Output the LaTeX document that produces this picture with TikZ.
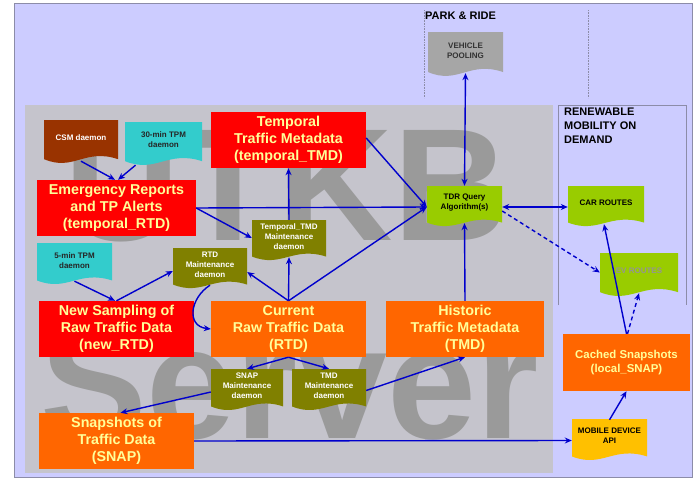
\documentclass[tikz,border=0pt]{standalone}
\usepackage{fontspec}
\setmainfont{Liberation Sans}
\usetikzlibrary{arrows.meta,calc}
\definecolor{lav}{HTML}{CCCCFF}
\definecolor{srv}{HTML}{C5C4CC}
\definecolor{wm}{HTML}{9A9A9A}
\definecolor{boxred}{HTML}{FF0000}
\definecolor{boxorg}{HTML}{FF6600}
\definecolor{txtyel}{HTML}{FFFF99}
\definecolor{cbrown}{HTML}{993300}
\definecolor{ccyan}{HTML}{33CCCC}
\definecolor{colive}{HTML}{808000}
\definecolor{cgreen}{HTML}{99CC00}
\definecolor{cyel}{HTML}{FFC000}
\definecolor{cgray}{HTML}{A6A6A6}
\definecolor{arr}{HTML}{0000CC}
\definecolor{frame}{HTML}{8C8CA8}
\tikzset{
  bigbox/.style={rectangle, inner sep=0pt, text=txtyel, align=center,
    font=\bfseries\fontsize{14.3}{17}\selectfont},
  docfont/.style={font=\bfseries\fontsize{8}{10}\selectfont, align=center, inner sep=0pt},
  hdr/.style={font=\bfseries\fontsize{11}{14}\selectfont, align=left, inner sep=0pt},
  wmtext/.style={font=\bfseries\fontsize{160}{160}\selectfont, text=wm, inner sep=0pt},
  conn/.style={draw=arr, line width=1.4pt, -{Stealth[length=7pt,width=6pt]}},
  conn2/.style={draw=arr, line width=1.4pt, {Stealth[length=7pt,width=6pt]}-{Stealth[length=7pt,width=6pt]}},
  dconn/.style={conn, dash pattern=on 4pt off 3pt},
}
\newcommand\docshape[8]{%
  \fill[#6] (#2,#3) -- ({#2+#4},#3) -- ({#2+#4},{#3+0.87*#5})
    .. controls ({#2+0.55*#4},{#3+0.62*#5}) and ({#2+0.4*#4},{#3+1.15*#5}) .. (#2,{#3+0.87*#5}) -- cycle;
  \node[inner sep=0pt, minimum width=#4pt, minimum height=#5pt] (#1) at ({#2+0.5*#4},{#3+0.5*#5}) {};
  \node[docfont, text=#7] (#1-t) at ({#2+0.5*#4},{#3+0.4*#5}) {#8};
}
\begin{document}
\begin{tikzpicture}[x=1pt,y=-1pt]
\useasboundingbox (0,0) rectangle (696,479);
\fill[white] (0,0) rectangle (696,479);
\filldraw[fill=lav, draw=frame, line width=0.8pt] (14,3) rectangle (692,477);
\fill[srv] (25,105) rectangle (553,473);
% watermark
\node[wmtext, anchor=base west] (wmtop) at (64,240) {UTKB};
\node[wmtext, anchor=base west] (wmbot) at (40,438) {Server};
% section lines
\draw[frame, densely dotted, line width=0.6pt] (424,10) -- (424,98);
\draw[frame, densely dotted, line width=0.6pt] (588,10) -- (588,98);
\draw[frame, line width=0.8pt] (558,305) -- (558,105) -- (686,105) -- (686,305);
\node[hdr, anchor=north west] (park) at (425,12) {PARK \& RIDE};
\node[hdr, anchor=north west] (renew) at (564,108) {RENEWABLE\\MOBILITY ON\\DEMAND};
% big boxes
\node[bigbox, fill=boxred, minimum width=155pt, minimum height=56pt] (ttmd) at (288.5,140) {Temporal\\Traffic Metadata\\(temporal\_TMD)};
\node[bigbox, fill=boxred, minimum width=159pt, minimum height=56pt] (emerg) at (116.5,208) {Emergency Reports\\and TP Alerts\\(temporal\_RTD)};
\node[bigbox, fill=boxred, minimum width=155pt, minimum height=56pt] (newrtd) at (116.5,329) {New Sampling of\\Raw Traffic Data\\(new\_RTD)};
\node[bigbox, fill=boxorg, minimum width=155pt, minimum height=56pt] (rtd) at (288.5,329) {Current\\Raw Traffic Data\\(RTD)};
\node[bigbox, fill=boxorg, minimum width=158pt, minimum height=56pt] (tmd) at (465,329) {Historic\\Traffic Metadata\\(TMD)};
\node[bigbox, fill=boxorg, minimum width=155pt, minimum height=56pt] (snap) at (116.5,441) {Snapshots of\\Traffic Data\\(SNAP)};
\node[bigbox, fill=boxorg, minimum width=127pt, minimum height=57pt, font=\bfseries\fontsize{11.4}{14}\selectfont] (cached) at (626.5,362.5) {Cached Snapshots\\(local\_SNAP)};
% document shapes
\docshape{csm}{44}{120}{74}{45}{cbrown}{white}{CSM daemon}
\docshape{tpmA}{125}{122}{77}{45}{ccyan}{black!85}{30-min TPM\\daemon}
\docshape{tpmB}{37}{243}{75}{43}{ccyan}{black!85}{5-min TPM\\daemon}
\docshape{rtdm}{173}{248}{74}{42}{colive}{white}{RTD\\Maintenance\\daemon}
\docshape{ttmdm}{252}{220}{74}{42}{colive}{white}{Temporal\_TMD\\Maintenance\\daemon}
\docshape{snapm}{211}{369}{72}{43}{colive}{white}{SNAP\\Maintenance\\daemon}
\docshape{tmdm}{292}{369}{74}{43}{colive}{white}{TMD\\Maintenance\\daemon}
\docshape{tdr}{427}{186}{75}{42}{cgreen}{black}{TDR Query\\Algorithm(s)}
\docshape{car}{568}{186}{76}{42}{cgreen}{black}{CAR ROUTES}
\docshape{ev}{600}{253}{78}{45}{cgreen}{black!42}{EV ROUTES}
\docshape{veh}{428}{32}{75}{46}{cgray}{black!80}{VEHICLE\\POOLING}
\docshape{mob}{572}{419}{75}{43}{cyel}{black}{MOBILE DEVICE\\API}
% connectors
\draw[conn] ([yshift=4pt]csm.south) -- ([xshift=-1.5pt]emerg.north);
\draw[conn] ([xshift=-28pt,yshift=2pt]tpmA.south) -- ([xshift=1.5pt]emerg.north);
\draw[conn] (emerg.east) -- (tdr.west);
\draw[conn] (emerg.east) -- ([yshift=3pt]ttmdm.west);
\draw[conn] (ttmdm.north) -- (ttmd.south);
\draw[conn] ([yshift=2pt]ttmd.east) -- (tdr.west);
\draw[conn2] ([yshift=5pt]veh.south) -- (tdr.north);
\draw[conn] (tmd.north) -- ([yshift=5pt]tdr.south);
\draw[conn] (rtd.north) -- (tdr.west);
\draw[conn] (rtd.north) -- ([yshift=5pt]ttmdm.south);
\draw[conn] (rtd.north) -- ([yshift=-3pt]rtdm.east);
\draw[conn] ([yshift=5pt]rtdm.south) .. controls (190,298) and (186,326) .. (rtd.west);
\draw[conn] ([yshift=5pt]tpmB.south) -- ([xshift=-1.5pt]newrtd.north);
\draw[conn] (newrtd.north) -- ([yshift=-2pt]rtdm.west);
\draw[conn] (rtd.south) -- (snapm.north);
\draw[conn] (rtd.south) -- (tmdm.north);
\draw[conn] ([yshift=-1.5pt]snapm.west) -- ([xshift=4pt]snap.north);
\draw[conn] (tmdm.east) -- (tmd.south);
\draw[conn] (snap.east) -- (mob.west);
\draw[conn] ([yshift=-1pt]mob.north) -- (cached.south);
\draw[conn] (cached.north) -- ([xshift=-2pt,yshift=4pt]car.south);
\draw[dconn] ([xshift=1pt]cached.north) -- ([yshift=5pt]ev.south);
\draw[conn2] (tdr.east) -- (car.west);
\draw[dconn] ([yshift=-4pt]tdr.east) -- ([yshift=3pt]ev.west);
\end{tikzpicture}
\end{document}
